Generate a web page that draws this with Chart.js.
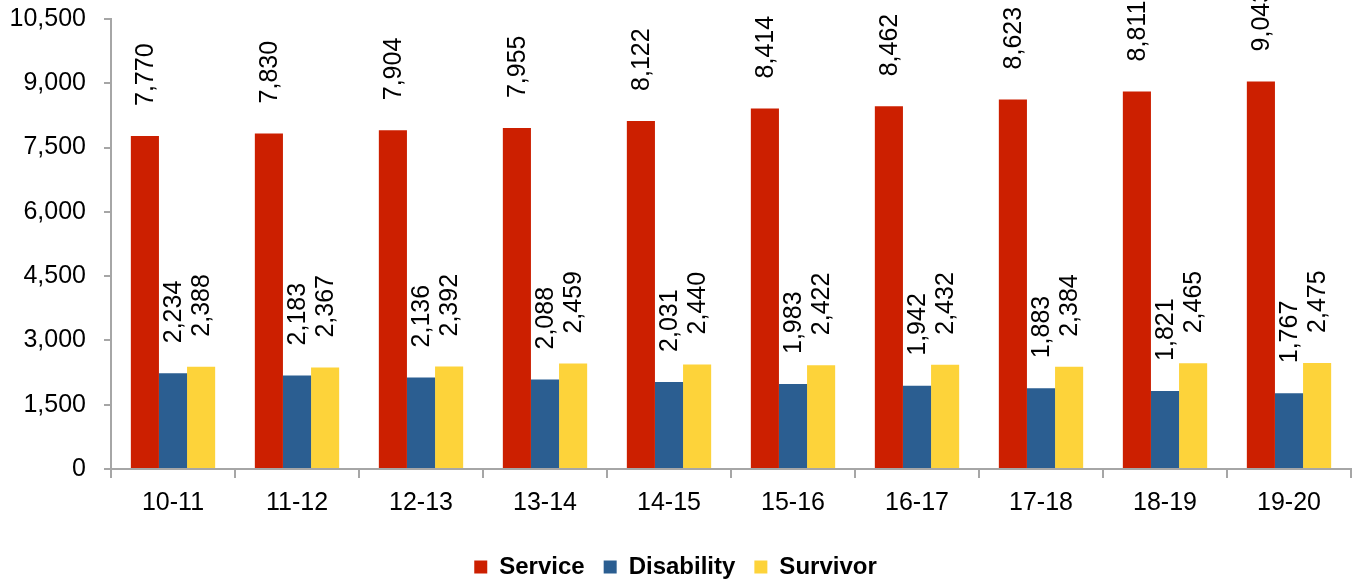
<!DOCTYPE html>
<html>
<head>
<meta charset="utf-8">
<script src="https://cdn.jsdelivr.net/npm/chart.js@4.4.1/dist/chart.umd.min.js"></script>
<style>
  html, body { margin: 0; padding: 0; background: #fff; }
  #wrap { width: 1360px; height: 582px; position: relative; }
</style>
</head>
<body>
<div id="wrap"><canvas id="chart"></canvas></div>
<script>
const categories = ['10-11', '11-12', '12-13', '13-14', '14-15', '15-16', '16-17', '17-18', '18-19', '19-20'];
const serviceValues = [7770, 7830, 7904, 7955, 8122, 8414, 8462, 8623, 8811, 9043];
const disabilityValues = [2234, 2183, 2136, 2088, 2031, 1983, 1942, 1883, 1821, 1767];
const survivorValues = [2388, 2367, 2392, 2459, 2440, 2422, 2432, 2384, 2465, 2475];

const FONT = "'Liberation Sans', Arial, sans-serif";
const AXIS_GREY = '#a6a6a6';

const fmt = (v) => Number(v).toLocaleString('en-US');

// rotated value labels sitting above each bar
const rotatedLabels = {
  id: 'rotatedLabels',
  afterDatasetsDraw(chart) {
    const { ctx } = chart;
    ctx.save();
    ctx.fillStyle = '#000';
    ctx.font = `25px ${FONT}`;
    ctx.textAlign = 'left';
    ctx.textBaseline = 'middle';
    chart.data.datasets.forEach((ds, i) => {
      const meta = chart.getDatasetMeta(i);
      meta.data.forEach((bar, j) => {
        ctx.save();
        ctx.translate(bar.x + 1, bar.y - 30);
        ctx.rotate(-Math.PI / 2);
        ctx.fillText(fmt(ds.data[j]), 0, 0);
        ctx.restore();
      });
    });
    ctx.restore();
  }
};

new Chart(document.getElementById('chart'), {
  type: 'bar',
  data: {
    labels: categories,
    datasets: [
      { label: 'Service', data: serviceValues, backgroundColor: '#cc1f00' },
      { label: 'Disability', data: disabilityValues, backgroundColor: '#2b5e91' },
      { label: 'Survivor', data: survivorValues, backgroundColor: '#fdd33a' }
    ]
  },
  options: {
    responsive: true,
    maintainAspectRatio: false,
    animation: false,
    layout: { padding: { top: 19, right: 9, left: 0, bottom: -7 } },
    datasets: {
      bar: { categoryPercentage: 0.68, barPercentage: 1.0 }
    },
    plugins: {
      legend: {
        position: 'bottom',
        labels: {
          boxWidth: 13,
          boxHeight: 13,
          padding: 19,
          color: '#000',
          font: { family: FONT, size: 24, weight: 'bold' }
        }
      },
      tooltip: { enabled: false }
    },
    scales: {
      x: {
        afterFit: (scale) => { scale.height += 8; },
        grid: {
          offset: true,
          drawOnChartArea: false,
          drawTicks: true,
          tickLength: 9,
          color: AXIS_GREY,
          lineWidth: 2
        },
        border: { color: AXIS_GREY, width: 2 },
        ticks: {
          color: '#000',
          padding: 10,
          maxRotation: 0,
          font: { family: FONT, size: 25 }
        }
      },
      y: {
        min: 0,
        max: 10500,
        afterFit: (scale) => { scale.width = 111; },
        grid: {
          drawOnChartArea: false,
          drawTicks: true,
          tickLength: 7,
          color: AXIS_GREY,
          lineWidth: 2
        },
        border: { color: AXIS_GREY, width: 2 },
        ticks: {
          stepSize: 1500,
          color: '#000',
          padding: 18,
          // tiny line height so the top label does not push the plot down
          font: { family: FONT, size: 25, lineHeight: 0.02 },
          callback: (v) => fmt(v)
        }
      }
    }
  },
  plugins: [rotatedLabels]
});
</script>
</body>
</html>
